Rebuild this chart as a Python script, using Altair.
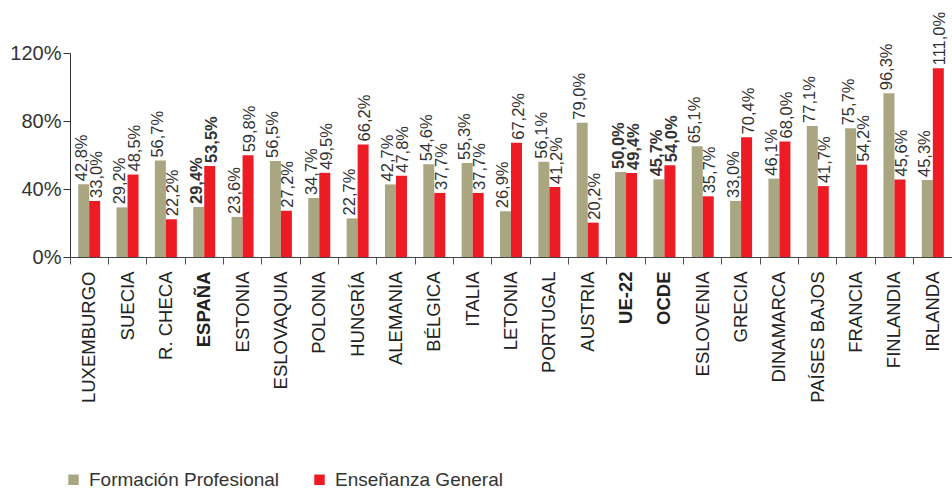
import altair as alt
import pandas as pd

countries = ["LUXEMBURGO", "SUECIA", "R. CHECA", "ESPAÑA", "ESTONIA", "ESLOVAQUIA",
             "POLONIA", "HUNGRÍA", "ALEMANIA", "BÉLGICA", "ITALIA", "LETONIA",
             "PORTUGAL", "AUSTRIA", "UE-22", "OCDE", "ESLOVENIA", "GRECIA",
             "DINAMARCA", "PAÍSES BAJOS", "FRANCIA", "FINLANDIA", "IRLANDA"]
fp = [42.8, 29.2, 56.7, 29.4, 23.6, 56.5, 34.7, 22.7, 42.7, 54.6, 55.3, 26.9,
      56.1, 79.0, 50.0, 45.7, 65.1, 33.0, 46.1, 77.1, 75.7, 96.3, 45.3]
eg = [33.0, 48.5, 22.2, 53.5, 59.8, 27.2, 49.5, 66.2, 47.8, 37.7, 37.7, 67.2,
      41.2, 20.2, 49.4, 54.0, 35.7, 70.4, 68.0, 41.7, 54.2, 45.6, 111.0]
bold_countries = ["ESPAÑA", "UE-22", "OCDE"]
series = ["Formación Profesional", "Enseñanza General"]
colors = ["#aaa682", "#ed1c24"]

rows = []
for c, a, b in zip(countries, fp, eg):
    for s, v in zip(series, (a, b)):
        rows.append({"pais": c, "serie": s, "valor": v,
                     "etiqueta": f"{v:.1f}".replace(".", ",") + "%",
                     "bold": c in bold_countries})
df = pd.DataFrame(rows)

bold_expr = "indexof(['ESPAÑA','UE-22','OCDE'], datum.value) >= 0 ? 'bold' : 'normal'"

x = alt.X("pais:N", sort=countries,
          scale=alt.Scale(paddingInner=0, paddingOuter=0),
          axis=alt.Axis(title=None, labelAngle=270, bandPosition=0, tickSize=7,
                        labelPadding=7, labelFontSize=18.5, labelFont="Liberation Sans",
                        labelColor="#222", labelFontWeight={"expr": bold_expr},
                        domainColor="#444", tickColor="#555", labelLimit=300))
xo = alt.XOffset("serie:N", sort=series,
                 scale=alt.Scale(domain=series, paddingInner=0, paddingOuter=0.743))
y = alt.Y("valor:Q", scale=alt.Scale(domain=[0, 120]),
          axis=alt.Axis(values=[0, 40, 80, 120], labelExpr="datum.value + '%'",
                        title=None, grid=False, tickSize=7, labelPadding=2,
                        labelFontSize=20, labelFont="Liberation Sans",
                        labelColor="#333", domainColor="#333", tickColor="#333"))
color = alt.Color("serie:N", sort=series,
                  scale=alt.Scale(domain=series, range=colors),
                  legend=alt.Legend(title=None, orient="none", legendX=-6, legendY=417,
                                    direction="horizontal", symbolType="square",
                                    symbolSize=110, symbolStrokeWidth=0,
                                    labelFontSize=19, labelFont="Liberation Sans",
                                    labelColor="#333", columnPadding=30, labelOffset=6,
                                    labelLimit=400))

bars = alt.Chart().mark_bar().encode(x=x, xOffset=xo, y=y, color=color)

def text_layer(weight, is_bold, serie, shift):
    flt = f"{'' if is_bold else '!'}datum.bold && datum.serie == '{serie}'"
    return alt.Chart().mark_text(angle=270, align="left", baseline="middle", dx=3,
                                 dy=shift, fontSize=16.5, font="Liberation Sans",
                                 color="#333", fontWeight=weight).encode(
        x=x, xOffset=xo, y=y, text="etiqueta:N").transform_filter(flt)

layers = [bars]
for serie, shift in zip(series, (-2, 2)):
    layers.append(text_layer("normal", False, serie, shift))
    layers.append(text_layer("bold", True, serie, shift))

chart = alt.layer(*layers, data=df).properties(
    width=882, height=204,
    padding={"left": 70, "top": 53, "right": 0, "bottom": 233},
    autosize=alt.AutoSizeParams(type="none"),
).configure_view(stroke=None)

chart.save("out.html", embed_options={"renderer": "svg", "actions": False})
